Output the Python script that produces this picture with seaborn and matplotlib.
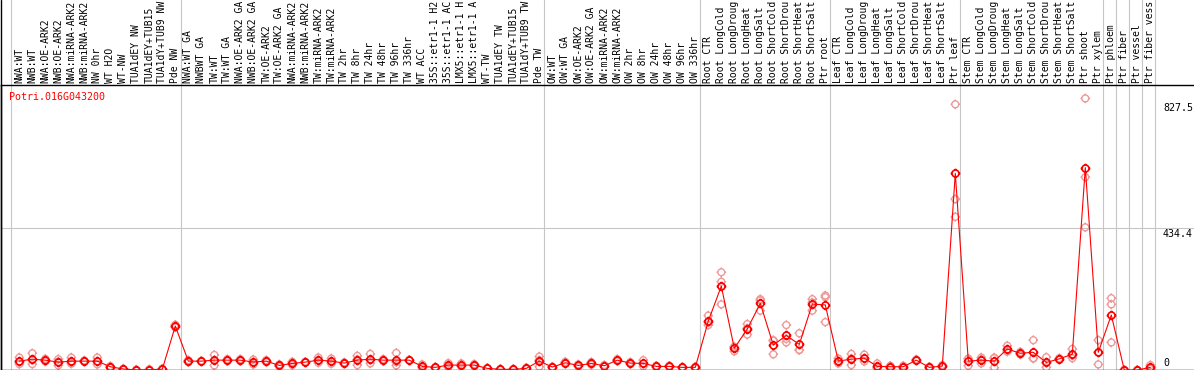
import numpy as np
import pandas as pd
import matplotlib
matplotlib.use("Agg")
import matplotlib.pyplot as plt
import matplotlib.transforms as mtransforms
from matplotlib.lines import Line2D
from matplotlib.path import Path
import seaborn as sns

# Sample labels, in plotting order (as shown, cut to 14 characters)
labels = [
    "NWA:WT", "NWB:WT", "NWA:OE-ARK2", "NWB:OE-ARK2", "NWA:miRNA-ARK2", "NWB:miRNA-ARK2",
    "NW 0hr", "WT H2O", "WT-NW", "TUA1dEY NW", "TUA1dEY+TUB15", "TUA1dY+TUB9 NW", "Pde NW",
    "NWA:WT GA", "NWBWT GA", "TW:WT", "TW:WT GA", "NWA:OE-ARK2 GA", "NWB:OE-ARK2 GA",
    "TW:OE-ARK2", "TW:OE-ARK2 GA", "NWA:miRNA-ARK2", "NWB:miRNA-ARK2", "TW:miRNA-ARK2",
    "TW:miRNA-ARK2", "TW 2hr", "TW 8hr", "TW 24hr", "TW 48hr", "TW 96hr", "TW 336hr", "WT ACC",
    "35S::etr1-1 H2", "35S::etr1-1 AC", "LMX5::etr1-1 H", "LMX5::etr1-1 A", "WT-TW",
    "TUA1dEY TW", "TUA1dEY+TUB15", "TUA1dY+TUB9 TW", "Pde TW",
    "OW:WT", "OW:WT GA", "OW:OE-ARK2", "OW:OE-ARK2 GA", "OW:miRNA-ARK2", "OW:miRNA-ARK2",
    "OW 2hr", "OW 8hr", "OW 24hr", "OW 48hr", "OW 96hr", "OW 336hr",
    "Root CTR", "Root LongCold", "Root LongDroug", "Root LongHeat", "Root LongSalt",
    "Root ShortCold", "Root ShortDrou", "Root ShortHeat", "Root ShortSalt", "Ptr root",
    "Leaf CTR", "Leaf LongCold", "Leaf LongDroug", "Leaf LongHeat", "Leaf LongSalt",
    "Leaf ShortCold", "Leaf ShortDrou", "Leaf ShortHeat", "Leaf ShortSalt", "Ptr leaf",
    "Stem CTR", "Stem LongCold", "Stem LongDroug", "Stem LongHeat", "Stem LongSalt",
    "Stem ShortCold", "Stem ShortDrou", "Stem ShortHeat", "Stem ShortSalt", "Ptr shoot",
    "Ptr xylem", "Ptr phloem", "Ptr fiber", "Ptr vessel", "Ptr fiber vess",
]
group_sizes = [13, 28, 12, 10, 10, 11, 1, 1, 1, 1]

# Three replicate expression values per sample
rep1 = [38, 51, 34, 33, 38, 29, 38, 12, 4, 1,
        2, 4, 138, 30, 28, 46, 33, 33, 32, 30,
        17, 25, 25, 38, 35, 23, 43, 49, 33, 52,
        31, 17, 9, 21, 20, 18, 6, 3, 3, 7,
        41, 10, 25, 17, 24, 15, 33, 24, 30, 13,
        13, 9, 10, 166, 298, 71, 140, 216, 91, 137,
        112, 216, 227, 35, 49, 47, 20, 13, 13, 32,
        10, 15, 810, 35, 38, 38, 74, 55, 91, 39,
        36, 64, 828, 91, 219, 0, 0, 15]
rep2 = [25, 30, 30, 25, 24, 27, 26, 10, 3, 0,
        1, 2, 134, 27, 27, 30, 30, 30, 24, 27,
        14, 20, 24, 30, 27, 21, 32, 30, 30, 24,
        30, 10, 8, 15, 14, 15, 5, 2, 2, 5,
        30, 9, 22, 14, 20, 13, 30, 21, 19, 11,
        11, 8, 8, 145, 269, 70, 127, 212, 89, 95,
        61, 206, 222, 27, 35, 35, 8, 10, 10, 30,
        8, 12, 521, 33, 32, 36, 62, 51, 36, 22,
        34, 44, 588, 54, 200, 0, 0, 6]
rep3 = [18, 18, 26, 14, 19, 25, 17, 8, 2, 0,
        0, 1, 130, 24, 26, 14, 27, 27, 17, 24,
        11, 15, 23, 22, 19, 19, 15, 20, 27, 14,
        29, 6, 7, 9, 11, 12, 4, 1, 1, 3,
        10, 8, 19, 11, 16, 11, 27, 18, 11, 9,
        9, 7, 6, 137, 200, 57, 108, 181, 48, 84,
        61, 181, 146, 20, 15, 26, 5, 7, 7, 28,
        6, 9, 467, 13, 20, 7, 56, 47, 35, 8,
        32, 36, 435, 17, 84, 0, 0, 3]

gene = "Potri.016G043200"
y_ticks = [827.5, 434.4, 0]
y_top = 868.9

rows = []
for rep in (rep1, rep2, rep3):
    for i, v in enumerate(rep):
        rows.append({"pos": i, "sample": labels[i], "value": v})
df = pd.DataFrame(rows)

# circle with four small ticks, used as marker
ticks = Path([(0, 1), (0, 1.4), (0, -1), (0, -1.4), (1, 0), (1.4, 0), (-1, 0), (-1.4, 0)],
             [Path.MOVETO, Path.LINETO] * 4)
ring = Path.make_compound_path(Path.unit_circle(), ticks)

sns.set_style("white")
plt.rcParams["font.family"] = ["DejaVu Sans Mono"]

W, H = 1194, 370
fig = plt.figure(figsize=(W / 100, H / 100), dpi=100)
ax = fig.add_axes([1 / W, 0, (W - 1) / W, 285 / H])

step = 13.0
x0 = -(19.3 - 1) / step
ax.set_xlim(x0, x0 + (W - 1) / step)
ax.set_ylim(0, y_top)

grid_c = "#c6c6c6"
bounds = [-0.64] + list(np.cumsum(group_sizes) - 1 + 0.4)
for b in bounds:
    ax.axvline(b, ymin=0, ymax=1 + 85 / 285, color=grid_c, lw=0.8, clip_on=False, zorder=0)
ax.axhline(y_ticks[1], color=grid_c, lw=0.8, zorder=0)

sns.scatterplot(data=df, x="pos", y="value", marker=ring, s=48, color="#ee9a9a",
                edgecolor="#ee9a9a", linewidth=1.0, ax=ax, zorder=2, legend=False)
ax.collections[-1].set_facecolor("none")

sns.lineplot(data=df, x="pos", y="value", estimator="mean", errorbar=None, color="red",
             linewidth=0.8, marker=ring, markersize=7, markerfacecolor="none",
             markeredgecolor="red", markeredgewidth=1.2, ax=ax, zorder=3)

for s in ["left", "top", "bottom"]:
    ax.spines[s].set_color("black")
    ax.spines[s].set_linewidth(1.0)
ax.spines["right"].set_visible(False)
ax.set_xticks([])
ax.set_yticks([])
ax.set_xlabel("")
ax.set_ylabel("")
fig.add_artist(Line2D([0.5 / W, 0.5 / W], [0, 1], transform=fig.transFigure, color="black", lw=1.0))

# sample labels above the plot
lab_tr = mtransforms.blended_transform_factory(ax.transData, ax.transAxes)
for i, lab in enumerate(labels):
    ax.text(i, 1 + 2 / 285, lab, transform=lab_tr, rotation=90, ha="center", va="bottom",
            fontsize=7.0, color="black")

ax.text(8 / (W - 1), (H - 97) / 285, gene, transform=ax.transAxes, ha="left", va="center",
        fontsize=7.2, color="red")

# value labels at the right, shifted in pixels from their value
ytr = mtransforms.blended_transform_factory(ax.transAxes, ax.transData)
offsets = [-4.5, -1.5, 12]
for v, off in zip(y_ticks, offsets):
    tr = mtransforms.offset_copy(ytr, fig=fig, y=off, units="dots")
    txt = "0" if v == 0 else f"{v:.1f}"
    ax.text((1163 - 1) / (W - 1), v, txt, transform=tr, ha="left", va="top",
            fontsize=7.2, color="black")

fig.savefig("out.png", dpi=100)
